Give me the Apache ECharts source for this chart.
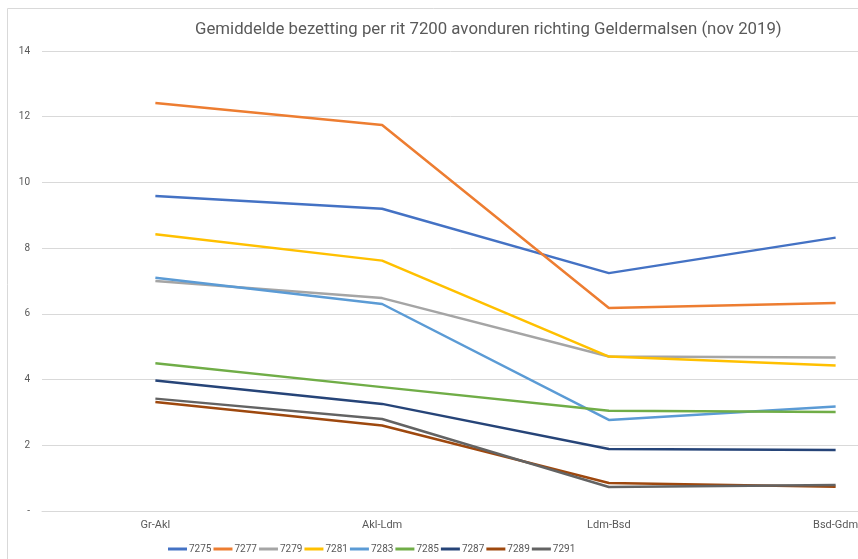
<!DOCTYPE html>
<html>
<head>
<meta charset="utf-8">
<script src="https://cdn.jsdelivr.net/npm/echarts@6/dist/echarts.min.js"></script>
<style>
  html, body { margin: 0; padding: 0; background: #fff; }
  #chart { width: 858px; height: 559px; }
</style>
</head>
<body>
<div id="chart"></div>
<script>
// trajecten
const categories = ["Gr-Akl", "Akl-Ldm", "Ldm-Bsd", "Bsd-Gdm"];

// ritnummers + kleuren (Excel palet)
const ritten = ["7275", "7277", "7279", "7281", "7283", "7285", "7287", "7289", "7291"];
const colors = ["#4472C4", "#ED7D31", "#A5A5A5", "#FFC000", "#5B9BD5", "#70AD47", "#264478", "#9E480E", "#636363"];

// gemiddelde bezetting per rit
const r7275 = [9.59, 9.2, 7.24, 8.32];
const r7277 = [12.42, 11.75, 6.18, 6.33];
const r7279 = [7.0, 6.48, 4.7, 4.67];
const r7281 = [8.42, 7.62, 4.7, 4.43];
const r7283 = [7.1, 6.3, 2.77, 3.18];
const r7285 = [4.5, 3.77, 3.05, 3.01];
const r7287 = [3.97, 3.26, 1.89, 1.86];
const r7289 = [3.32, 2.6, 0.85, 0.74];
const r7291 = [3.42, 2.8, 0.73, 0.79];
const values = [r7275, r7277, r7279, r7281, r7283, r7285, r7287, r7289, r7291];

const chart = echarts.init(document.getElementById("chart"));

const option = {
  animation: false,
  title: {
    text: "Gemiddelde bezetting per rit 7200 avonduren richting Geldermalsen (nov 2019)",
    left: 190,
    top: 16,
    textStyle: {
      fontFamily: "Roboto, sans-serif",
      fontSize: 16.8,
      fontWeight: "normal",
      color: "#595959",
    },
  },
  graphic: [
    {
      type: "rect",
      shape: { x: 7.5, y: 8.5, width: 900, height: 600 },
      style: { fill: "none", stroke: "#d9d9d9", lineWidth: 1 },
      silent: true,
    },
  ],
  legend: {
    data: ritten,
    left: 163,
    top: 539,
    icon: "rect",
    itemWidth: 19,
    itemHeight: 3,
    itemGap: 2,
    textStyle: {
      fontFamily: "Roboto, sans-serif",
      fontSize: 10,
      color: "#595959",
      padding: [0, 0, 0, -3],
    },
  },
  // plot runs past the right edge, like the cropped original
  grid: {
    left: 42,
    width: 907,
    top: 51,
    bottom: 48,
    outerBoundsMode: "none",
  },
  xAxis: {
    type: "category",
    data: categories,
    boundaryGap: true,
    axisLine: { lineStyle: { color: "#d9d9d9" } },
    axisTick: { show: false },
    axisLabel: {
      color: "#595959",
      fontFamily: "Roboto, sans-serif",
      fontSize: 11,
      margin: 9,
    },
  },
  yAxis: {
    type: "value",
    min: 0,
    max: 14,
    interval: 2,
    axisLine: { show: false },
    axisTick: { show: false },
    splitLine: { lineStyle: { color: "#d9d9d9" } },
    axisLabel: {
      color: "#595959",
      fontFamily: "Roboto, sans-serif",
      fontSize: 10,
      margin: 12,
      formatter: function (v) {
        return v === 0 ? "-" : v;
      },
    },
  },
  series: ritten.map(function (name, i) {
    return {
      name: name,
      type: "line",
      data: values[i],
      symbol: "none",
      color: colors[i],
      lineStyle: { width: 2.5, color: colors[i] },
    };
  }),
};

chart.setOption(option);
</script>
</body>
</html>
